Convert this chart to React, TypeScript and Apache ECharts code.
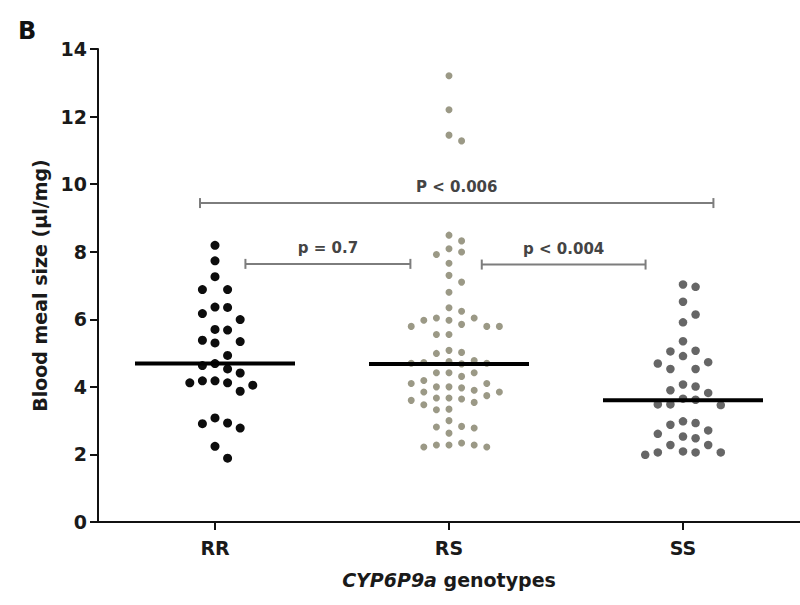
import React, { useEffect, useRef } from 'react';
import * as echarts from 'echarts';

// ---------- data ----------
const categories = ['RR', 'RS', 'SS'];

const rrValues = [
  8.19, 7.73, 7.26, 6.88, 6.88, 6.35, 6.36, 6.17, 5.99, 5.68, 5.7, 5.34, 5.3, 5.38,
  4.93, 4.69, 4.63, 4.53, 4.41, 4.18, 4.18, 4.12, 4.12, 4.05, 3.87, 3.08, 2.91, 2.93,
  2.78, 2.24, 1.89,
];

const rsValues = [
  13.21, 12.2, 11.28, 11.45,
  8.49, 8.32, 8.09, 7.92, 7.99, 7.66, 7.3, 7.1, 6.8, 6.34, 6.24, 6.04, 5.79, 5.79,
  5.97, 5.97, 5.79, 6.04, 5.85, 5.55, 5.55,
  5.02, 5.08, 4.99,
  4.78, 4.72, 4.7, 4.68, 4.7, 4.75,
  4.42, 4.42, 4.42, 4.19, 4.31, 4.1,
  4.0, 3.9, 3.85, 3.74, 3.85, 4.0, 3.97, 4.1,
  3.67, 3.6, 3.47, 3.34, 3.32, 3.54, 3.64, 3.67,
  3.0, 2.83, 2.78, 2.63, 2.81,
  2.28, 2.28, 2.22, 2.22, 2.28, 2.34,
];

const ssValues = [
  6.96, 7.03, 6.52, 6.14, 5.91, 5.35, 5.07, 5.05, 4.91, 4.73, 4.69, 4.53, 4.53,
  4.07, 4.01, 3.9, 3.82, 3.62, 3.65, 3.48, 3.46, 3.48,
  2.93, 2.98, 2.88, 2.71, 2.61, 2.53, 2.48, 2.28, 2.28, 2.09, 2.06, 1.99, 2.06, 2.06,
];

const groupMeans = [4.69, 4.68, 3.6];

const comparisons = [
  { from: -0.064, to: 2.13, y: 9.44, label: 'P < 0.006' },
  { from: 0.13, to: 0.835, y: 7.64, label: 'p = 0.7' },
  { from: 1.14, to: 1.84, y: 7.62, label: 'p < 0.004' },
];

// ---------- layout / style ----------
const GRID = { left: 98, top: 49, width: 708, height: 473 };
const Y_MIN = 0;
const Y_MAX = 14;
const PX_PER_Y = GRID.height / (Y_MAX - Y_MIN);
const PX_PER_CAT = GRID.width / categories.length;
const COL_PX = 12.7;
const FONT = '"DejaVu Sans", "Liberation Sans", Arial, sans-serif';

const groupStyles = [
  { color: '#0d0d0d', size: 9, gap: 13 },
  { color: '#9b9986', size: 7, gap: 11 },
  { color: '#666666', size: 8.5, gap: 13 },
];

// beeswarm layout: nearest free column to the centre
function swarm(values: number[], groupIndex: number, gapPx: number): number[][] {
  const order = values.map((_, i) => i).sort((a, b) => values[b] - values[a]);
  const placed: { col: number; y: number }[] = [];
  const cols: number[] = new Array(values.length).fill(0);
  for (const i of order) {
    const y = values[i] * PX_PER_Y;
    for (let k = 0; k < 200; k++) {
      const c = k === 0 ? 0 : k % 2 === 1 ? Math.ceil(k / 2) : -k / 2;
      if (!placed.some((p) => p.col === c && Math.abs(p.y - y) < gapPx)) {
        placed.push({ col: c, y });
        cols[i] = c;
        break;
      }
    }
  }
  return values.map((v, i) => [groupIndex + (cols[i] * COL_PX) / PX_PER_CAT, v]);
}

export default function App() {
  const ref = useRef<HTMLDivElement>(null);

  useEffect(() => {
    if (!ref.current) return;
    const chart = echarts.init(ref.current, undefined, { renderer: 'svg' });
    const groups = [rrValues, rsValues, ssValues];

    const scatterSeries = groups.map((vals, gi) => ({
      type: 'scatter',
      xAxisIndex: 1,
      yAxisIndex: 0,
      symbol: 'circle',
      symbolSize: groupStyles[gi].size,
      itemStyle: { color: groupStyles[gi].color, opacity: 1 },
      data: swarm(vals, gi, groupStyles[gi].gap),
      z: 2,
      silent: true,
    }));

    const option: any = {
      animation: false,
      backgroundColor: '#ffffff',
      grid: { ...GRID, containLabel: false },
      graphic: [
        {
          type: 'text',
          left: 18,
          top: 19,
          style: { text: 'B', font: `bold 24px ${FONT}`, fill: '#111' },
        },
      ],
      xAxis: [
        {
          type: 'category',
          data: categories,
          boundaryGap: true,
          axisLine: { show: true, onZero: false, lineStyle: { color: '#111', width: 2 } },
          axisTick: { show: true, alignWithLabel: true, length: 8, lineStyle: { color: '#111', width: 2 } },
          axisLabel: { fontFamily: FONT, fontWeight: 'bold', fontSize: 19, color: '#1a1a1a', margin: 16 },
          name: '{i|CYP6P9a} genotypes',
          nameLocation: 'middle',
          nameGap: 48,
          nameTextStyle: {
            fontFamily: FONT,
            fontWeight: 'bold',
            fontSize: 19,
            color: '#1a1a1a',
            rich: {
              i: { fontFamily: FONT, fontWeight: 'bold', fontStyle: 'italic', fontSize: 19, color: '#1a1a1a' },
            },
          },
          splitLine: { show: false },
        },
        {
          type: 'value',
          min: -0.5,
          max: categories.length - 0.5,
          show: false,
          axisLine: { onZero: false },
          splitLine: { show: false },
        },
      ],
      yAxis: [
        {
          type: 'value',
          min: Y_MIN,
          max: Y_MAX,
          interval: 2,
          position: 'left',
          axisLine: { show: true, onZero: false, lineStyle: { color: '#111', width: 2 } },
          axisTick: { show: true, length: 8, lineStyle: { color: '#111', width: 2 } },
          axisLabel: { fontFamily: FONT, fontWeight: 'bold', fontSize: 19, color: '#1a1a1a', margin: 11 },
          splitLine: { show: false },
          name: 'Blood meal size (µl/mg)',
          nameLocation: 'middle',
          nameGap: 48,
          nameTextStyle: { fontFamily: FONT, fontWeight: 'bold', fontSize: 19, color: '#1a1a1a' },
        },
      ],
      series: [
        ...scatterSeries,
        {
          type: 'custom',
          xAxisIndex: 1,
          yAxisIndex: 0,
          z: 5,
          silent: true,
          clip: false,
          data: groupMeans.map((m, i) => [i, m]),
          renderItem: (params: any, api: any) => {
            const p = api.coord([api.value(0), api.value(1)]);
            return {
              type: 'line',
              shape: { x1: p[0] - 80, y1: p[1], x2: p[0] + 80, y2: p[1] },
              style: { stroke: '#000', lineWidth: 4 },
            };
          },
        },
        {
          type: 'custom',
          xAxisIndex: 1,
          yAxisIndex: 0,
          z: 4,
          silent: true,
          clip: false,
          data: comparisons.map((c) => [c.from, c.y, c.to]),
          renderItem: (params: any, api: any) => {
            const a = api.coord([api.value(0), api.value(1)]);
            const b = api.coord([api.value(2), api.value(1)]);
            const lineStyle = { stroke: '#7d7d7d', lineWidth: 2 };
            return {
              type: 'group',
              children: [
                { type: 'line', shape: { x1: a[0], y1: a[1], x2: b[0], y2: b[1] }, style: lineStyle },
                { type: 'line', shape: { x1: a[0], y1: a[1] - 5, x2: a[0], y2: a[1] + 5 }, style: lineStyle },
                { type: 'line', shape: { x1: b[0], y1: b[1] - 5, x2: b[0], y2: b[1] + 5 }, style: lineStyle },
                {
                  type: 'text',
                  x: (a[0] + b[0]) / 2,
                  y: a[1] - 16,
                  style: {
                    text: comparisons[params.dataIndex].label,
                    align: 'center',
                    verticalAlign: 'middle',
                    font: `bold 15px ${FONT}`,
                    fill: '#444',
                  },
                },
              ],
            };
          },
        },
      ],
    };

    chart.setOption(option);
    return () => chart.dispose();
  }, []);

  return (
    <div
      ref={ref}
      style={{ position: 'fixed', left: 0, top: 0, width: 800, height: 605, background: '#fff' }}
    />
  );
}
